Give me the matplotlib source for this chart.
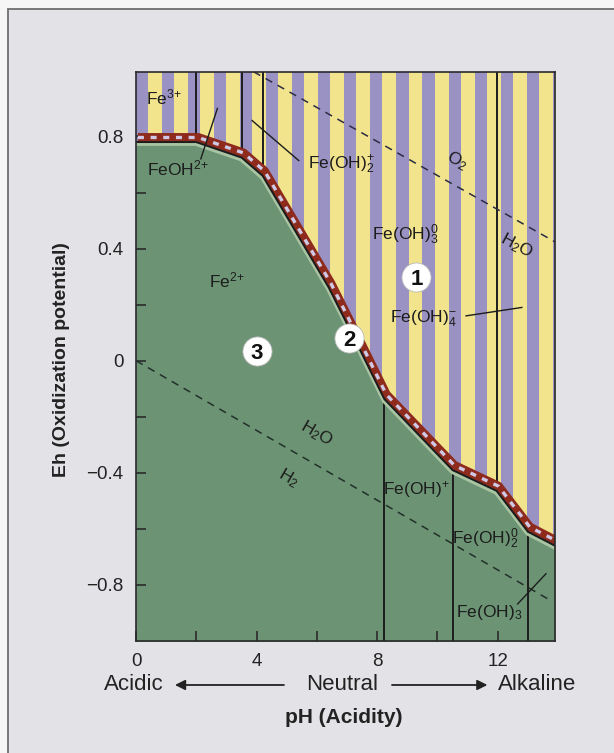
import numpy as np
import matplotlib
matplotlib.use('Agg')
import matplotlib.pyplot as plt
from matplotlib.patches import Rectangle
from matplotlib.transforms import offset_copy

plt.rcParams['font.family'] = ['Liberation Sans', 'DejaVu Sans']
plt.rcParams['mathtext.default'] = 'regular'

# ---------------- data ----------------
boundary_ph = [0.0, 2.0, 3.5, 4.2, 5.3, 6.4, 7.4, 8.24, 10.5, 11.96, 13.0, 13.9]
boundary_eh = [0.78, 0.78, 0.725, 0.66, 0.46, 0.26, 0.046, -0.137, -0.39, -0.464, -0.61, -0.66]
upper_field_ph = [2.0, 3.5, 4.2, 11.96]      # vertical field borders above the boundary
lower_field_ph = [8.24, 10.5, 13.0]          # vertical field borders below the boundary
o2_line_ph = [3.9, 13.9]
o2_line_eh = [1.031, 0.424]
h2_line_ph = [0.0, 13.65]
h2_line_eh = [0.0, -0.849]
feoh_leader_ph = [2.70, 2.15]
feoh_leader_eh = [0.90, 0.72]
feoh2_leader_ph = [3.85, 5.40]
feoh2_leader_eh = [0.857, 0.714]
feoh4_leader_ph = [10.95, 12.8]
feoh4_leader_eh = [0.16, 0.19]
feoh3_leader_ph = [12.66, 13.6]
feoh3_leader_eh = [-0.868, -0.76]
zone_numbers = ['1', '2', '3']
zone_ph = [9.3, 7.08, 4.0]
zone_eh = [0.30, 0.08, 0.036]
x_ticks = [0, 4, 8, 12]
x_tick_labels = ['0', '4', '8', '12']
x_minor = [2, 6, 10]
y_ticks = [-0.8, -0.4, 0.0, 0.4, 0.8]
y_tick_labels = ['\u22120.8', '\u22120.4', '0', '0.4', '0.8']
y_minor = [-0.6, -0.2, 0.2, 0.6]

# ---------------- style ----------------
YELLOW = '#f1e48c'
PURPLE = '#9a92c2'
GREEN = '#6c9474'
RED = '#8e2b1d'
LAV = '#cfc9e6'
INK = '#1c1c1c'

fig = plt.figure(figsize=(6.14, 7.53), dpi=100, facecolor='#f6f6f6')
fig.patches.append(Rectangle((8 / 614, -0.1), 1.2, 1 - 9 / 753 + 0.1, transform=fig.transFigure,
                             facecolor='#e3e3e7', edgecolor='#6e6e6e', lw=1.3, zorder=-10))
ax = fig.add_axes([136 / 614, 1 - 641 / 753, 419 / 614, 569 / 753])
XMIN, XMAX = 0.0, 13.9
YMIN, YMAX = -1.0, 1.03
ax.set_xlim(XMIN, XMAX)
ax.set_ylim(YMIN, YMAX)
ax.set_facecolor(YELLOW)

# vertical stripes of the oxidized field
period, pw = 0.864, 0.40
for x0 in np.arange(XMIN, XMAX, period):
    ax.axvspan(x0, x0 + pw, color=PURPLE, lw=0, zorder=0)

# reduced (green) field
ax.fill_between(boundary_ph, boundary_eh, YMIN - 0.1, color=GREEN, lw=0, zorder=1)

# field borders
for ph in upper_field_ph:
    ax.vlines(ph, np.interp(ph, boundary_ph, boundary_eh), YMAX, color=INK, lw=1.4, zorder=3)
for ph in lower_field_ph:
    ax.vlines(ph, YMIN, np.interp(ph, boundary_ph, boundary_eh), color=INK, lw=1.4, zorder=3)

# water stability lines
ax.plot(o2_line_ph, o2_line_eh, color='#2c2c44', lw=1.1, ls=(0, (5, 4)), zorder=3)
ax.plot(h2_line_ph, h2_line_eh, color='#22302a', lw=1.1, ls=(0, (5, 4)), zorder=3)

# boundary band
up = offset_copy(ax.transData, fig=fig, x=1.4, y=3.3, units='points')
down = offset_copy(ax.transData, fig=fig, x=-0.6, y=-1.6, units='points')
ax.plot(boundary_ph, boundary_eh, color='#a9c4a3', lw=2.2, zorder=4, transform=down,
        solid_joinstyle='round')
ax.plot(boundary_ph, boundary_eh, color=RED, lw=6.4, zorder=5, transform=up,
        solid_joinstyle='round', solid_capstyle='butt')
ax.plot(boundary_ph, boundary_eh, color=LAV, lw=2.4, ls=(0, (1.8, 2.0)), zorder=6,
        transform=up)
ax.plot(boundary_ph, boundary_eh, color=INK, lw=1.4, zorder=7)

# leaders
for lp, le in [(feoh_leader_ph, feoh_leader_eh), (feoh2_leader_ph, feoh2_leader_eh),
               (feoh4_leader_ph, feoh4_leader_eh), (feoh3_leader_ph, feoh3_leader_eh)]:
    ax.plot(lp, le, color=INK, lw=1.0, zorder=7)

# species labels
fs = 12.5
lab = dict(fontsize=fs, color=INK, ha='center', va='center', zorder=9)
ax.text(0.93, 0.94, r'$Fe^{3{+}}$', **lab)
ax.text(1.40, 0.685, r'$FeOH^{2{+}}$', **lab)
ax.text(6.80, 0.70, r'$Fe(OH)_2^{{+}}$', **lab)
ax.text(10.66, 0.714, r'$O_2$', rotation=-28, **lab)
ax.text(12.62, 0.41, r'$H_2O$', rotation=-28, **lab)
ax.text(8.92, 0.45, r'$Fe(OH)_3^0$', **lab)
ax.text(9.52, 0.15, r'$Fe(OH)_4^{{-}}$', **lab)
ax.text(3.02, 0.285, r'$Fe^{2{+}}$', **lab)
ax.text(5.98, -0.26, r'$H_2O$', rotation=-30, **lab)
ax.text(5.08, -0.42, r'$H_2$', rotation=-30, **lab)
ax.text(9.30, -0.46, r'$Fe(OH)^{{+}}$', **lab)
ax.text(11.58, -0.636, r'$Fe(OH)_2^0$', **lab)
ax.text(11.70, -0.90, r'$Fe(OH)_3$', **lab)

# numbered zones
ax.scatter(zone_ph, zone_eh, s=440, c='white', edgecolors='#b8b8b8', linewidths=0.6, zorder=10)
for t, xp, yp in zip(zone_numbers, zone_ph, zone_eh):
    ax.text(xp, yp, t, fontsize=16, fontweight='bold', color='#111111', ha='center',
            va='center_baseline', zorder=11)

# axes styling
for s in ax.spines.values():
    s.set_color('#2a2a2a')
    s.set_linewidth(1.2)
    s.set_zorder(12)
ax.set_xticks(x_ticks)
ax.set_xticklabels(x_tick_labels)
ax.set_xticks(x_minor, minor=True)
ax.set_yticks(y_ticks)
ax.set_yticklabels(y_tick_labels)
ax.set_yticks(y_minor, minor=True)
ax.tick_params(which='both', direction='in', length=7, width=1.2, color='#2a2a2a')
ax.tick_params(axis='x', which='major', labelsize=13.5, pad=9, labelcolor='#222222')
ax.tick_params(axis='y', which='major', labelsize=13.5, pad=9, labelcolor='#222222')

ax.text(-0.177, 0.494, 'Eh (Oxidization potential)', transform=ax.transAxes, rotation=90,
        ha='center', va='center', fontsize=14, fontweight='bold', color='#222222')

xt = ax.get_xaxis_transform()
row = -0.0773
ax.text(-0.08, row, 'Acidic', transform=xt, ha='center', va='center', fontsize=16,
        color='#222222')
ax.text(6.83, row, 'Neutral', transform=xt, ha='center', va='center', fontsize=16,
        color='#222222')
ax.text(13.3, row, 'Alkaline', transform=xt, ha='center', va='center', fontsize=16,
        color='#222222')
arrow = dict(arrowstyle='-|>', color='#222222', lw=1.3, mutation_scale=15)
ax.annotate('', xy=(1.2, row), xytext=(5.0, row), xycoords=xt, textcoords=xt,
            arrowprops=arrow, annotation_clip=False)
ax.annotate('', xy=(11.75, row), xytext=(8.4, row), xycoords=xt, textcoords=xt,
            arrowprops=arrow, annotation_clip=False)
ax.text(6.9, -0.1336, 'pH (Acidity)', transform=xt, ha='center', va='center', fontsize=15,
        fontweight='bold', color='#222222')

fig.savefig('out.png', dpi=100, facecolor=fig.get_facecolor())
